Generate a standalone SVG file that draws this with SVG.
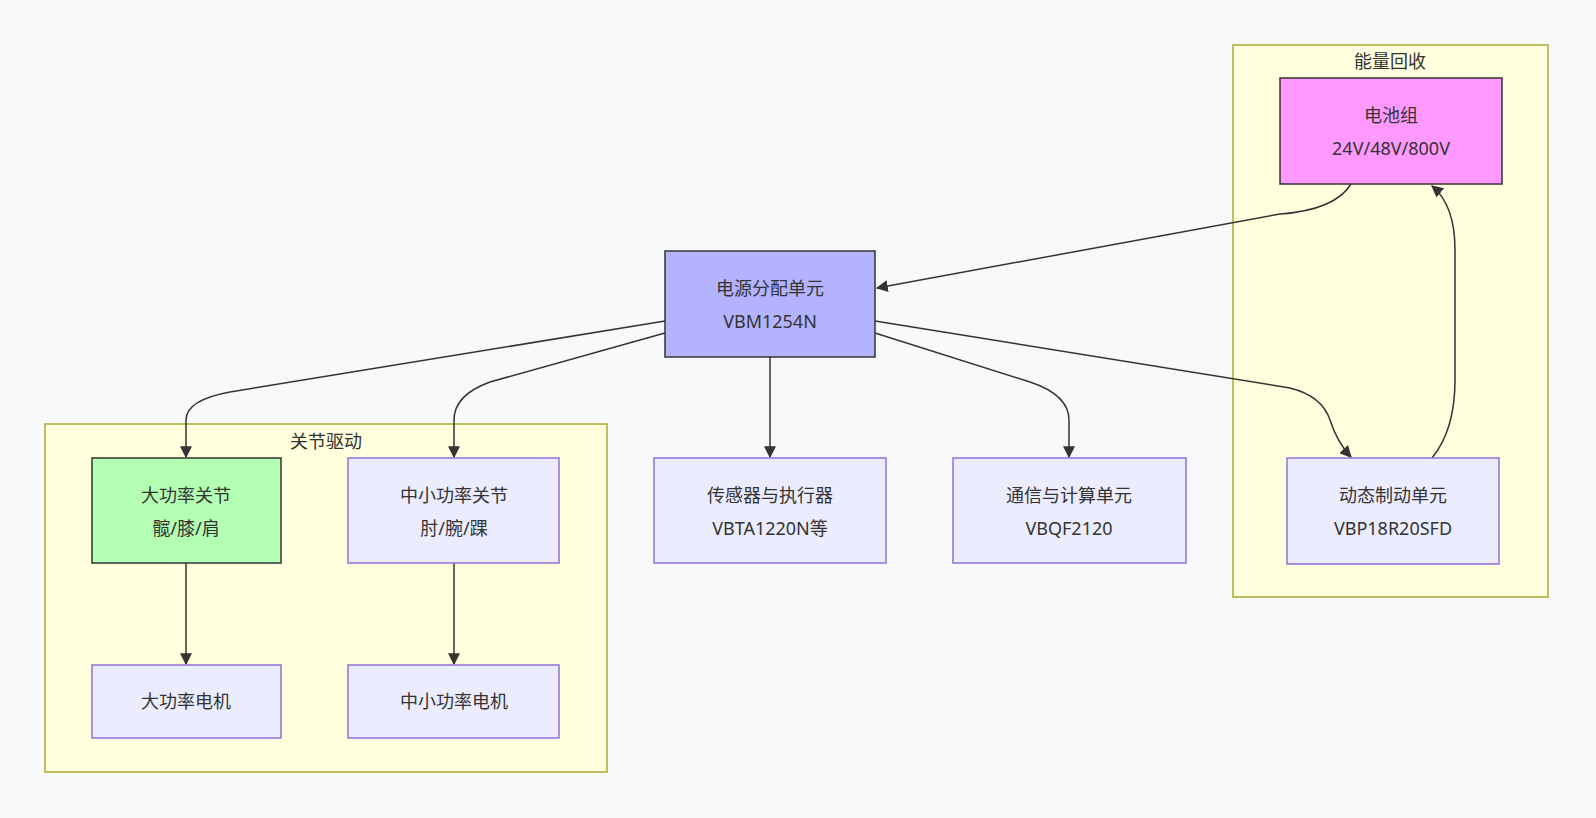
<svg xmlns="http://www.w3.org/2000/svg" width="1596" height="818" viewBox="0 0 1596 818">
<defs>
<style>
text{font-family:"Noto Sans","Noto Sans CJK SC",sans-serif;font-size:18px;fill:#333;text-anchor:middle}
.cl{fill:#ffffde;stroke:#aaaa33;stroke-width:1.5}
.n{fill:#ececff;stroke:#9370db;stroke-width:1.5}
.e{fill:none;stroke:#333;stroke-width:1.5;marker-end:url(#a)}
</style>
<marker id="a" viewBox="0 0 10 10" refX="9" refY="5" markerWidth="8" markerHeight="8" orient="auto"><path d="M0,0L10,5L0,10z" fill="#333"/></marker>
</defs>
<rect width="1596" height="818" fill="#f8f9fb"/>
<g id="cluster-energy"><rect class="cl" x="1233" y="45" width="315" height="552"/><text x="1390" y="68">能量回收</text></g>
<g id="cluster-joint"><rect class="cl" x="45" y="424" width="562" height="348"/><text x="326" y="448">关节驱动</text></g>
<g id="connectors">
<path class="e" d="M1351,184 Q1335,210 1280,214 L877,288"/>
<path class="e" d="M665,321 L230,392 Q186,400 186,420 L186,457"/>
<path class="e" d="M665,333 L490,382 Q454,395 454,420 L454,457"/>
<path class="e" d="M770,357 L770,457"/>
<path class="e" d="M875,333 L1030,382 Q1069,395 1069,420 L1069,457"/>
<path class="e" d="M875,321 L1290,388 Q1322,396 1330,420 Q1337,442 1351,457"/>
<path class="e" d="M1432,458 Q1455,430 1455,380 L1455,250 Q1455,205 1432,186"/>
<path class="e" d="M186,563 L186,664"/>
<path class="e" d="M454,563 L454,664"/>
</g>
<g id="battery"><rect x="1280" y="78" width="222" height="106" fill="#ff99ff" stroke="#333" stroke-width="1.5"/><text x="1391" y="122">电池组</text><text x="1391" y="155">24V/48V/800V</text></g>
<g id="pdu"><rect x="665" y="251" width="210" height="106" fill="#b3b3ff" stroke="#333" stroke-width="1.5"/><text x="770" y="295">电源分配单元</text><text x="770" y="328">VBM1254N</text></g>
<g id="bigjoint"><rect x="92" y="458" width="189" height="105" fill="#b3ffb3" stroke="#333" stroke-width="1.5"/><text x="186" y="502">大功率关节</text><text x="186" y="535">髋/膝/肩</text></g>
<g id="smalljoint"><rect class="n" x="348" y="458" width="211" height="105"/><text x="454" y="502">中小功率关节</text><text x="454" y="535">肘/腕/踝</text></g>
<g id="sensor"><rect class="n" x="654" y="458" width="232" height="105"/><text x="770" y="502">传感器与执行器</text><text x="770" y="535">VBTA1220N等</text></g>
<g id="comm"><rect class="n" x="953" y="458" width="233" height="105"/><text x="1069" y="502">通信与计算单元</text><text x="1069" y="535">VBQF2120</text></g>
<g id="brake"><rect class="n" x="1287" y="458" width="212" height="106"/><text x="1393" y="502">动态制动单元</text><text x="1393" y="535">VBP18R20SFD</text></g>
<g id="bigmotor"><rect class="n" x="92" y="665" width="189" height="73"/><text x="186" y="708">大功率电机</text></g>
<g id="smallmotor"><rect class="n" x="348" y="665" width="211" height="73"/><text x="454" y="708">中小功率电机</text></g>
</svg>
